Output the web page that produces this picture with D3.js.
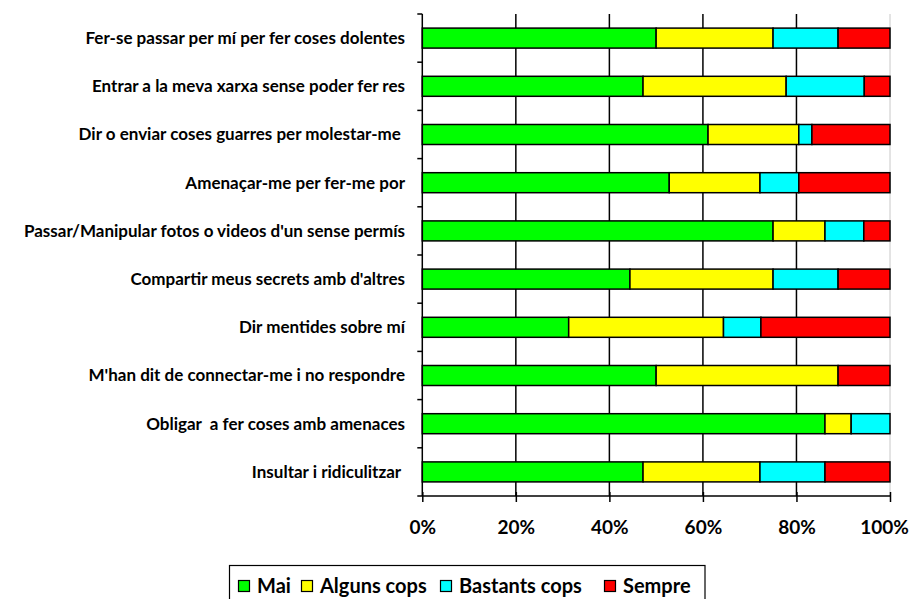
<!DOCTYPE html>
<html>
<head>
<meta charset="utf-8">
<script src="https://cdn.jsdelivr.net/npm/d3@7"></script>
<style>
  html, body { margin: 0; padding: 0; background: #fff; }
  svg { display: block; }
  text { font-family: Lato, "Open Sans", sans-serif; font-weight: bold; fill: #000; }
</style>
</head>
<body>
<svg id="chart" width="918" height="599"></svg>
<script>
const categories = [
  "Fer-se passar per mí per fer coses dolentes",
  "Entrar a la meva xarxa sense poder fer res",
  "Dir o enviar coses guarres per molestar-me ",
  "Amenaçar-me per fer-me por",
  "Passar/Manipular fotos o videos d'un sense permís",
  "Compartir meus secrets amb d'altres",
  "Dir mentides sobre mí",
  "M'han dit de connectar-me i no respondre",
  "Obligar  a fer coses amb amenaces",
  "Insultar i ridiculitzar "
];
const seriesNames = ["Mai", "Alguns cops", "Bastants cops", "Sempre"];
const mai      = [50.0, 47.2, 61.1, 52.8, 75.0, 44.4, 31.3, 50.0, 86.1, 47.2];
const alguns   = [25.0, 30.6, 19.4, 19.4, 11.1, 30.6, 33.1, 38.9,  5.6, 25.0];
const bastants = [13.9, 16.7,  2.8,  8.3,  8.3, 13.9,  8.0,  0.0,  8.3, 13.9];
const sempre   = [11.1,  5.5, 16.7, 19.5,  5.6, 11.1, 27.6, 11.1,  0.0, 13.9];
const tickValues = [0, 0.2, 0.4, 0.6, 0.8, 1.0];
const colors = ["#00FF00", "#FFFF00", "#00FFFF", "#FF0000"];

(function () {
const svg = d3.select("#chart");
const pLeft = 422.3, pRight = 890, pTop = 14, pBottom = 496;

const x = d3.scaleLinear().domain([0, 1]).range([pLeft, pRight]);
const y = d3.scaleBand().domain(categories).range([pTop, pBottom])
  .paddingInner(0.585).paddingOuter(0.2925);

const rows = categories.map((c, i) => {
  const vals = [mai[i], alguns[i], bastants[i], sempre[i]];
  const tot = d3.sum(vals);
  const r = { cat: c };
  seriesNames.forEach((s, j) => r[s] = vals[j] / tot);
  return r;
});
const stacked = d3.stack().keys(seriesNames)(rows);

// vertical gridlines
svg.append("g").selectAll("line").data(tickValues.slice(1, -1)).join("line")
  .attr("x1", d => x(d)).attr("x2", d => x(d))
  .attr("y1", pTop).attr("y2", pBottom)
  .attr("stroke", "#000").attr("stroke-width", 1.5);
// right light border
svg.append("line").attr("x1", x(1)).attr("x2", x(1)).attr("y1", pTop).attr("y2", pBottom)
  .attr("stroke", "#c8c8c8").attr("stroke-width", 1);

// bars
const colorScale = d3.scaleOrdinal().domain(seriesNames).range(colors);
svg.append("g").selectAll("g").data(stacked).join("g")
  .attr("fill", d => colorScale(d.key))
  .selectAll("rect").data(d => d.filter(p => p[1] - p[0] > 0)).join("rect")
  .attr("x", d => x(d[0])).attr("width", d => x(d[1]) - x(d[0]))
  .attr("y", d => y(d.data.cat)).attr("height", y.bandwidth())
  .attr("stroke", "#000").attr("stroke-width", 1.5);

// left axis
const boundaries = d3.range(categories.length + 1).map(i => pTop + i * (pBottom - pTop) / categories.length);
svg.append("line").attr("x1", pLeft).attr("x2", pLeft).attr("y1", pTop).attr("y2", pBottom)
  .attr("stroke", "#000").attr("stroke-width", 1.5);
svg.append("g").selectAll("line").data(boundaries).join("line")
  .attr("x1", pLeft - 5).attr("x2", pLeft).attr("y1", d => d).attr("y2", d => d)
  .attr("stroke", "#000").attr("stroke-width", 1.5);

// category labels
svg.append("g").selectAll("text").data(categories).join("text")
  .attr("x", 405).attr("y", d => y(d) + y.bandwidth() / 2)
  .attr("dy", "0.35em").attr("text-anchor", "end")
  .style("font-size", "17px").style("white-space", "pre")
  .text(d => d);

// bottom axis
const xAxis = d3.axisBottom(x).tickValues(tickValues).tickFormat(d3.format(".0%"))
  .tickSize(6).tickPadding(19);
const gx = svg.append("g").attr("transform", `translate(0,${pBottom})`).call(xAxis);
gx.select(".domain").attr("stroke", "#000").attr("stroke-width", 1.5).attr("d", `M${pLeft},0H${pRight}`);
gx.selectAll(".tick line").attr("stroke", "#000").attr("stroke-width", 1.5).attr("y1", -4);
gx.selectAll(".tick text").style("font-size", "19px").style("font-family", "Lato, sans-serif")
  .style("font-weight", "bold").attr("fill", "#000");
gx.selectAll(".tick text").filter(d => d === 1).attr("dx", -6);

// legend
const lg = svg.append("g");
lg.append("rect").attr("x", 229.5).attr("y", 565.5).attr("width", 475.5).attr("height", 45)
  .attr("fill", "#fff").attr("stroke", "#000").attr("stroke-width", 1.2);
const legendX = [238.5, 301.5, 440.5, 604.5];
seriesNames.forEach((s, i) => {
  lg.append("rect").attr("x", legendX[i]).attr("y", 580.5).attr("width", 11).attr("height", 11)
    .attr("fill", colors[i]).attr("stroke", "#000").attr("stroke-width", 1.2);
  lg.append("text").attr("x", legendX[i] + 18.5).attr("y", 592.5)
    .style("font-size", "20px").text(s);
});
})();
</script>
</body>
</html>
